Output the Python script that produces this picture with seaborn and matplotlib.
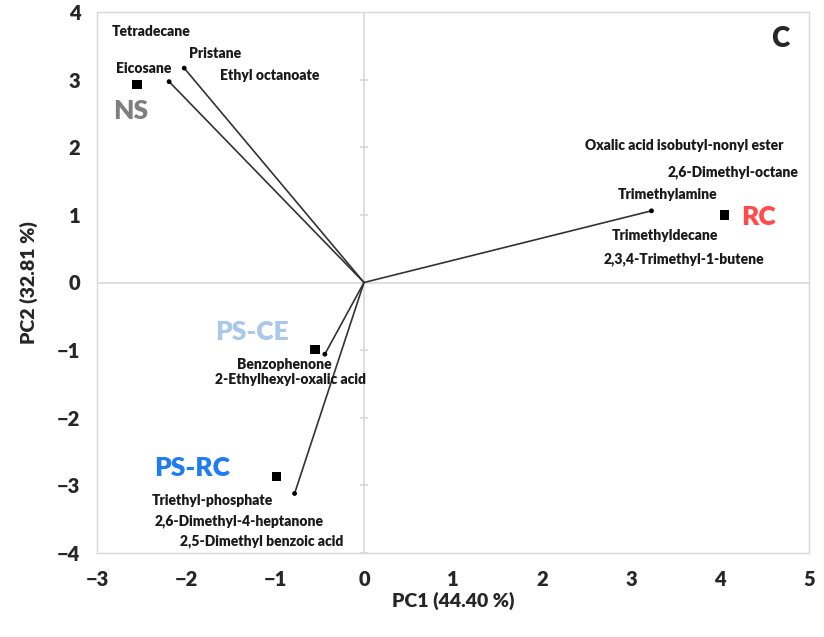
import numpy as np
import pandas as pd
import matplotlib
matplotlib.use("Agg")
import matplotlib.pyplot as plt
import seaborn as sns

sns.set_style("white")
plt.rcParams['font.family'] = ['Lato', 'DejaVu Sans']
plt.rcParams['axes.unicode_minus'] = True

# PCA scores of the sample groups
groups = ['NS', 'RC', 'PS-CE', 'PS-RC']
group_pc1 = [-2.55, 4.05, -0.55, -0.98]
group_pc2 = [2.93, 1.00, -0.99, -2.87]
group_colors = ['#7f7f7f', '#ff4b4b', '#a9c8ea', '#1f7cf2']

# loading vectors
loading_pc1 = [-2.19, -2.02, 3.23, -0.44, -0.78]
loading_pc2 = [2.97, 3.17, 1.06, -1.06, -3.12]

# compound labels
compounds = ['Tetradecane', 'Pristane', 'Eicosane', 'Ethyl octanoate',
             'Oxalic acid isobutyl-nonyl ester', '2,6-Dimethyl-octane',
             'Trimethylamine', 'Trimethyldecane', '2,3,4-Trimethyl-1-butene',
             'Benzophenone', '2-Ethylhexyl-oxalic acid',
             'Triethyl-phosphate', '2,6-Dimethyl-4-heptanone',
             '2,5-Dimethyl benzoic acid']
compound_x = [-2.39, -1.67, -2.47, -1.06, 3.60, 4.15, 3.41, 3.38, 3.60,
              -0.90, -0.83, -1.70, -1.40, -1.15]
compound_y = [3.71, 3.38, 3.17, 3.06, 2.02, 1.63, 1.30, 0.69, 0.34,
              -1.21, -1.43, -3.23, -3.53, -3.83]

# group label positions
group_label_x = [-2.62, 4.43, -1.26, -1.93]
group_label_y = [2.54, 0.97, -0.73, -2.74]

x_ticks = [-3, -2, -1, 0, 1, 2, 3, 4, 5]
y_ticks = [-4, -3, -2, -1, 0, 1, 2, 3, 4]

scores = pd.DataFrame({'PC1': group_pc1, 'PC2': group_pc2, 'group': groups})
loadings = pd.DataFrame({'PC1': loading_pc1, 'PC2': loading_pc2})

fig = plt.figure(figsize=(8.24, 6.37), dpi=100)
ax = fig.add_axes([97/824, 1 - 553/637, (809 - 97)/824, (553 - 12)/637])

# zero lines, small ticks on the vertical one
ax.axhline(0, color='#d9d9d9', lw=1.2, zorder=1)
ax.axvline(0, color='#d9d9d9', lw=1.2, zorder=1)
ax.plot(np.zeros(len(y_ticks)), y_ticks, ls='none', marker='_', ms=6,
        color='#d9d9d9', mew=1.2, zorder=1)

# loading vectors
for lx, ly in zip(loading_pc1, loading_pc2):
    ax.plot([0, lx], [0, ly], color='#333333', lw=1.2, zorder=2)
sns.scatterplot(data=loadings, x='PC1', y='PC2', ax=ax, color='black',
                s=12, edgecolor='none', zorder=3, legend=False)

# group scores
sns.scatterplot(data=scores, x='PC1', y='PC2', ax=ax, color='black',
                marker='s', s=45, edgecolor='none', zorder=3, legend=False)

for name, tx, ty in zip(compounds, compound_x, compound_y):
    ax.text(tx, ty, name, ha='center', va='center', fontsize=10,
            fontweight='heavy', color='#1a1a1a')

for name, tx, ty, c in zip(groups, group_label_x, group_label_y, group_colors):
    ax.text(tx, ty, name, ha='center', va='center', fontsize=19,
            fontweight='heavy', color=c)

ax.text(0.972, 0.95, 'C', transform=ax.transAxes, ha='right', va='center',
        fontsize=20, fontweight='heavy')

ax.set_xlim(-3, 5)
ax.set_ylim(-4, 4)
ax.set_xticks(x_ticks)
ax.set_yticks(y_ticks)
ax.tick_params(length=0, labelsize=14.5, pad=12)
for lab in ax.get_xticklabels() + ax.get_yticklabels():
    lab.set_fontweight('heavy')
for sp in ax.spines.values():
    sp.set_color('#d9d9d9')
    sp.set_linewidth(1.0)

ax.set_xlabel('PC1 (44.40 %)', fontsize=14, fontweight='heavy', labelpad=2)
ax.set_ylabel('PC2 (32.81 %)', fontsize=14, fontweight='heavy', labelpad=14)

fig.savefig('out.png', dpi=100)
